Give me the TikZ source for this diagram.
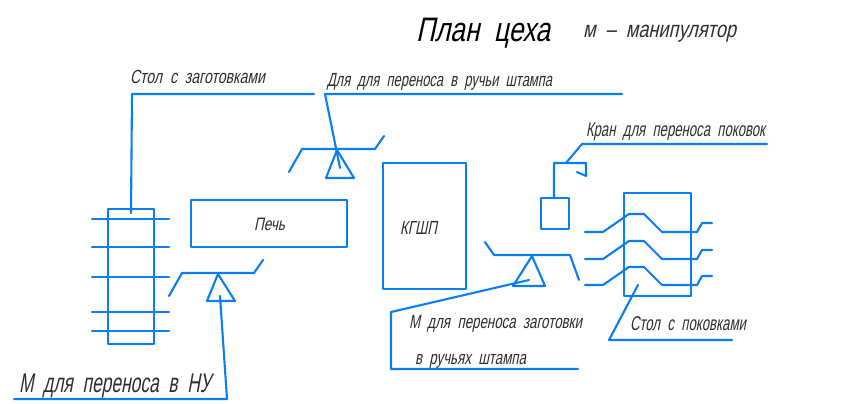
\documentclass[tikz,border=0pt]{standalone}
\usepackage{fontspec}
\usepackage{graphicx}
\setmainfont[FakeSlant=0.28,WordSpace=2]{Liberation Sans}
\definecolor{cadblue}{HTML}{0A7CF5}
\definecolor{cadtext}{HTML}{2E2E2E}
\newsavebox{\fitbox}
\newcommand{\fitw}[2]{\sbox{\fitbox}{#2}\pgfmathsetmacro{\fitr}{#1/\wd\fitbox}\scalebox{\fitr}[1]{\usebox{\fitbox}}}
\tikzset{
  cad/.style={draw=cadblue,line width=2.1pt,line join=round,line cap=round},
  lab/.style={anchor=base west,inner sep=0pt,outer sep=0pt,text=cadtext,font=\fontsize{#1}{#1}\selectfont}
}
\begin{document}
\begin{tikzpicture}[x=1pt,y=-1pt]
\useasboundingbox (0,0) rectangle (846,404);
% texts
\node[lab=34,text=black] (title) at (416,42) {\fitw{134}{План цеха}};
\node[lab=23] (legend) at (583,38) {\fitw{153}{м – манипулятор}};
\node[lab=19] (t1) at (130,84) {\fitw{135}{Стол с заготовками}};
\node[lab=19] (t2) at (327,86) {\fitw{225}{Для для переноса в ручьи штампа}};
\node[lab=18] (t3) at (254,230) {\fitw{31}{Печь}};
\node[lab=19] (t4) at (400,234) {\fitw{37}{КГШП}};
\node[lab=20] (t5) at (586,136) {\fitw{179}{Кран для переноса поковок}};
\node[lab=19] (t6) at (409,328) {\fitw{173}{М для переноса заготовки}};
\node[lab=19] (t7) at (415,364) {\fitw{111}{в ручьях штампа}};
\node[lab=20] (t8) at (630,330) {\fitw{116}{Стол с поковками}};
\node[lab=27] (t9) at (19,392) {\fitw{192}{М для переноса в НУ}};
% boxes
\draw[cad] (108,209) rectangle (154,344);
\draw[cad] (191,200) rectangle (347,247);
\draw[cad] (383,163) rectangle (466,289);
\draw[cad] (541,198) rectangle (569,229);
\draw[cad] (624,193) rectangle (691,296);
% left table bars
\foreach \y in {219,247,277,312,331} \draw[cad] (92,\y) -- (169,\y);
% table leader
\draw[cad] (314,94) -- (132,94) -- (131,213);
% manipulator near furnace
\draw[cad] (169,296) -- (182,273) -- (254,273) -- (263,260);
\draw[cad] (218,274) -- (207,301) -- (235,301) -- cycle;
\draw[cad] (220,296) -- (227,399) -- (14,399);
% upper manipulator
\draw[cad] (289,172) -- (302,149) -- (375,149) -- (384,136);
\draw[cad] (337,150) -- (326,178) -- (354,178) -- cycle;
\draw[cad] (622,94) -- (325,94) -- (340,168);
% crane
\draw[cad] (554,198) -- (554,163) -- (586,163) -- (586,176) -- (577,172);
\draw[cad] (566,163) -- (582,144) -- (767,144);
% right table bars
\foreach \d in {0,27,53}
  \draw[cad] (585,232+\d) -- (603,232+\d) -- (629,214+\d) -- (644,214+\d) -- (662,232+\d) -- (697,232+\d) -- (702,223+\d) -- (712,223+\d);
% lower manipulator
\draw[cad] (485,242) -- (494,255) -- (570,255) -- (579,280);
\draw[cad] (532,256) -- (513,286) -- (545,286) -- cycle;
\draw[cad] (529,280) -- (391,312) -- (391,369) -- (578,369);
% right table leader
\draw[cad] (638,285) -- (609,340) -- (732,340);
\end{tikzpicture}
\end{document}
